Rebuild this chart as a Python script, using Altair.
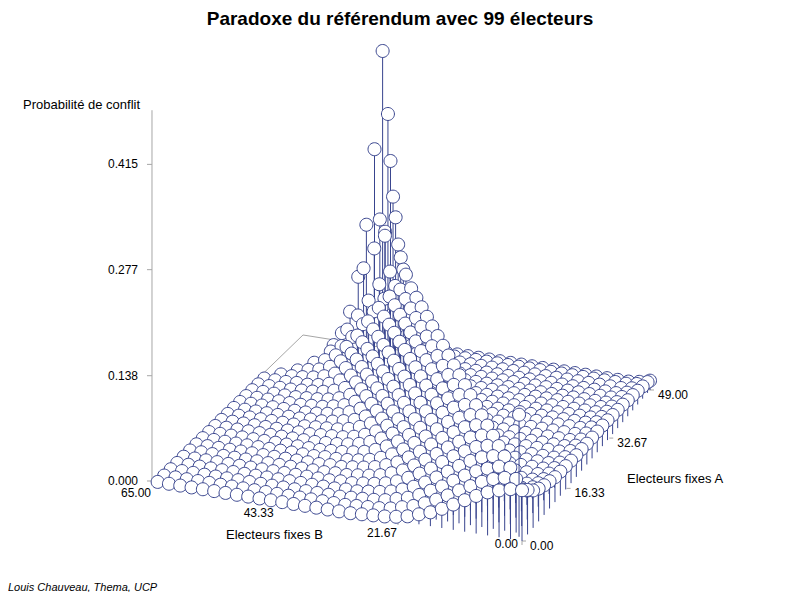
import altair as alt
import pandas as pd

# ---------------- data ----------------
# Electeurs fixes A (rows) and Electeurs fixes B (columns); domain A + B <= 99
A_ROWS = [0, 2, 4, 6, 8, 10, 12, 14, 16, 18, 20, 22, 24, 26, 28, 30, 32, 34, 36, 38, 40, 42, 44, 46, 48, 49]
B_COLS = [0, 2, 4, 6, 8, 10, 12, 14, 16, 18, 20, 22, 24, 26, 28, 30, 32,
          34, 36, 38, 40, 42, 44, 46, 48, 50, 52, 54, 56, 58, 60, 62, 64]

# Probabilite de conflit, one list per A row (values for B_COLS, None = outside domain)
Z_A00 = [0.066, 0.065, 0.061, 0.056, 0.049, 0.041, 0.033, 0.025, 0.018, 0.013,
         0.008, 0.005, 0.003, 0.002, 0.001, 0, 0, 0, 0, 0,
         0, 0, 0, 0, 0, 0, 0, 0, 0, 0, 0, 0, 0]
Z_A02 = [0.058, 0.070, 0.069, 0.065, 0.059, 0.051, 0.043, 0.034, 0.026, 0.019,
         0.013, 0.009, 0.005, 0.003, 0.002, 0.001, 0, 0, 0, 0,
         0, 0, 0, 0, 0, 0, 0, 0, 0, 0, 0, 0, 0]
Z_A04 = [0.049, 0.048, 0.074, 0.073, 0.068, 0.062, 0.054, 0.045, 0.035, 0.027,
         0.019, 0.013, 0.009, 0.005, 0.003, 0.002, 0.001, 0, 0, 0,
         0, 0, 0, 0, 0, 0, 0, 0, 0, 0, 0, 0, 0]
Z_A06 = [0.043, 0.038, 0.041, 0.078, 0.076, 0.072, 0.065, 0.056, 0.046, 0.036,
         0.027, 0.019, 0.013, 0.008, 0.005, 0.003, 0.001, 0.001, 0, 0,
         0, 0, 0, 0, 0, 0, 0, 0, 0, 0, 0, 0, 0]
Z_A08 = [0.039, 0.034, 0.031, 0.038, 0.081, 0.079, 0.075, 0.067, 0.058, 0.048,
         0.037, 0.028, 0.020, 0.013, 0.008, 0.005, 0.003, 0.001, 0.001, 0,
         0, 0, 0, 0, 0, 0, 0, 0, 0, 0, 0, 0, 0]
Z_A10 = [0.036, 0.031, 0.028, 0.028, 0.036, 0.084, 0.082, 0.077, 0.069, 0.059,
         0.048, 0.038, 0.028, 0.019, 0.013, 0.008, 0.005, 0.003, 0.001, 0.001,
         0, 0, 0, 0, 0, 0, 0, 0, 0, 0, 0, 0, 0]
Z_A12 = [0.033, 0.028, 0.025, 0.025, 0.025, 0.034, 0.087, 0.085, 0.080, 0.071,
         0.061, 0.050, 0.038, 0.028, 0.019, 0.013, 0.008, 0.005, 0.003, 0.001,
         0.001, 0, 0, 0, 0, 0, 0, 0, 0, 0, 0, 0, 0]
Z_A14 = [0.032, 0.027, 0.024, 0.024, 0.024, 0.024, 0.034, 0.090, 0.088, 0.082,
         0.074, 0.062, 0.050, 0.039, 0.028, 0.019, 0.012, 0.007, 0.004, 0.002,
         0.001, 0.001, 0, 0, 0, 0, 0, 0, 0, 0, 0, 0, 0]
Z_A16 = [0.031, 0.026, 0.023, 0.023, 0.023, 0.023, 0.023, 0.034, 0.093, 0.091,
         0.085, 0.076, 0.064, 0.051, 0.039, 0.028, 0.019, 0.012, 0.007, 0.004,
         0.002, 0.001, 0, 0, 0, 0, 0, 0, 0, 0, 0, 0, 0]
Z_A18 = [0.030, 0.025, 0.022, 0.022, 0.022, 0.022, 0.022, 0.022, 0.033, 0.096,
         0.094, 0.087, 0.078, 0.065, 0.052, 0.039, 0.028, 0.019, 0.012, 0.007,
         0.004, 0.002, 0.001, 0, 0, 0, 0, 0, 0, 0, 0, 0, 0]
Z_A20 = [0.029, 0.024, 0.021, 0.021, 0.021, 0.021, 0.021, 0.021, 0.021, 0.033,
         0.099, 0.097, 0.090, 0.079, 0.066, 0.052, 0.039, 0.028, 0.018, 0.011,
         0.006, 0.003, 0.002, 0.001, 0, 0, 0, 0, 0, 0, 0, 0, 0]
Z_A22 = [0.029, 0.024, 0.021, 0.021, 0.021, 0.021, 0.021, 0.021, 0.021, 0.021,
         0.033, 0.102, 0.100, 0.092, 0.081, 0.068, 0.053, 0.039, 0.027, 0.018,
         0.011, 0.006, 0.003, 0.002, 0.001, 0, 0, 0, 0, 0, 0, 0, 0]
Z_A24 = [0.028, 0.023, 0.020, 0.020, 0.020, 0.020, 0.020, 0.020, 0.020, 0.020,
         0.020, 0.033, 0.105, 0.102, 0.095, 0.083, 0.069, 0.053, 0.039, 0.027,
         0.017, 0.010, 0.006, 0.003, 0.001, 0.001, 0, 0, 0, 0, 0, 0, 0]
Z_A26 = [0.028, 0.023, 0.020, 0.020, 0.020, 0.020, 0.020, 0.020, 0.020, 0.020,
         0.020, 0.020, 0.033, 0.108, 0.105, 0.097, 0.085, 0.070, 0.054, 0.039,
         0.026, 0.017, 0.010, 0.005, 0.003, 0.001, 0, 0, 0, 0, 0, 0, 0]
Z_A28 = [0.028, 0.023, 0.020, 0.020, 0.020, 0.020, 0.020, 0.020, 0.020, 0.020,
         0.020, 0.020, 0.020, 0.034, 0.111, 0.108, 0.099, 0.086, 0.070, 0.054,
         0.039, 0.026, 0.016, 0.009, 0.005, 0.002, 0.001, 0, 0, 0, 0, 0, 0]
Z_A30 = [0.028, 0.023, 0.020, 0.020, 0.020, 0.020, 0.020, 0.020, 0.020, 0.020,
         0.020, 0.020, 0.020, 0.020, 0.034, 0.114, 0.111, 0.102, 0.088, 0.071,
         0.054, 0.038, 0.025, 0.015, 0.008, 0.004, 0.002, 0.001, 0, 0, 0, 0, 0]
Z_A32 = [0.027, 0.022, 0.019, 0.019, 0.019, 0.019, 0.019, 0.019, 0.019, 0.019,
         0.019, 0.019, 0.019, 0.019, 0.019, 0.034, 0.117, 0.114, 0.104, 0.089,
         0.072, 0.054, 0.037, 0.024, 0.014, 0.008, 0.004, 0.002, 0.001, 0, 0, 0, 0]
Z_A34 = [0.026, 0.021, 0.018, 0.018, 0.018, 0.018, 0.018, 0.018, 0.018, 0.018,
         0.018, 0.018, 0.018, 0.018, 0.018, 0.018, 0.033, 0.120, 0.116, 0.106,
         0.091, 0.072, 0.054, 0.037, 0.023, 0.014, 0.007, 0.003, 0.001, 0.001, 0, 0, 0]
Z_A36 = [0.025, 0.020, 0.017, 0.017, 0.017, 0.017, 0.017, 0.017, 0.017, 0.017,
         0.017, 0.017, 0.017, 0.017, 0.017, 0.017, 0.017, 0.033, 0.123, 0.119,
         0.108, 0.092, 0.073, 0.054, 0.037, 0.023, 0.013, 0.007, 0.003, 0.001, 0, 0, None]
Z_A38 = [0.024, 0.019, 0.016, 0.016, 0.016, 0.016, 0.016, 0.016, 0.016, 0.016,
         0.016, 0.016, 0.016, 0.016, 0.016, 0.016, 0.016, 0.016, 0.032, 0.126,
         0.122, 0.111, 0.093, 0.073, 0.053, 0.035, 0.022, 0.012, 0.006, 0.003, 0, None, None]
Z_A40 = [0.022, 0.017, 0.014, 0.014, 0.014, 0.014, 0.014, 0.014, 0.014, 0.014,
         0.014, 0.014, 0.014, 0.014, 0.014, 0.014, 0.014, 0.014, 0.014, 0.031,
         0.129, 0.125, 0.113, 0.095, 0.074, 0.052, 0.034, 0.020, 0.011, 0.005, None, None, None]
Z_A42 = [0.021, 0.016, 0.013, 0.013, 0.013, 0.013, 0.013, 0.013, 0.013, 0.013,
         0.013, 0.013, 0.013, 0.013, 0.013, 0.013, 0.013, 0.013, 0.013, 0.013,
         0.031, 0.138, 0.120, 0.100, 0.080, 0.060, 0.040, 0.025, 0.015, None, None, None, None]
Z_A44 = [0.019, 0.014, 0.011, 0.011, 0.011, 0.011, 0.011, 0.011, 0.011, 0.011,
         0.011, 0.011, 0.011, 0.011, 0.011, 0.011, 0.011, 0.011, 0.011, 0.011,
         0.011, 0.032, 0.152, 0.130, 0.110, 0.085, 0.062, 0.040, None, None, None, None, None]
Z_A46 = [0.017, 0.012, 0.010, 0.010, 0.010, 0.010, 0.010, 0.010, 0.010, 0.010,
         0.010, 0.010, 0.010, 0.010, 0.010, 0.010, 0.010, 0.010, 0.010, 0.010,
         0.010, 0.010, 0.035, 0.198, 0.170, 0.150, 0.120, None, None, None, None, None, None]
Z_A48 = [0.015, 0.010, 0.008, 0.008, 0.008, 0.008, 0.008, 0.008, 0.008, 0.008,
         0.008, 0.008, 0.008, 0.008, 0.008, 0.008, 0.008, 0.008, 0.008, 0.008,
         0.008, 0.008, 0.008, 0.040, 0.267, 0.183, None, None, None, None, None, None, None]
Z_A49 = [0.013, 0.009, 0.007, 0.007, 0.007, 0.007, 0.007, 0.007, 0.007, 0.007,
         0.007, 0.007, 0.007, 0.007, 0.007, 0.007, 0.007, 0.007, 0.007, 0.007,
         0.007, 0.007, 0.007, 0.007, 0.050, 0.415, None, None, None, None, None, None, None]

Z_ROWS = [Z_A00, Z_A02, Z_A04, Z_A06, Z_A08, Z_A10, Z_A12, Z_A14, Z_A16, Z_A18,
          Z_A20, Z_A22, Z_A24, Z_A26, Z_A28, Z_A30, Z_A32, Z_A34, Z_A36, Z_A38,
          Z_A40, Z_A42, Z_A44, Z_A46, Z_A48, Z_A49]

# isolated spikes (odd coordinates) visible near the peak and the front corner
SPIKE_B = [49, 51, 49, 52, 47, 53, 45, 54, 55, 43, 56, 1]
SPIKE_A = [49, 48, 48, 47, 47, 46, 45, 45, 44, 43, 43, 1]
SPIKE_Z = [0.328, 0.280, 0.167, 0.177, 0.222, 0.107, 0.165, 0.061, 0.034, 0.140, 0.020, 0.159]

# axis ticks
Z_TICKS = [0.000, 0.138, 0.277, 0.415]
B_TICKS = [0.0, 21.67, 43.33, 65.0]
A_TICKS = [0.0, 16.33, 32.67, 49.0]

# ---------------- build tables ----------------
for r in Z_ROWS:
    assert len(r) == len(B_COLS), len(r)

recs = []
for a, zr in zip(A_ROWS, Z_ROWS):
    for b, z in zip(B_COLS, zr):
        if z is not None:
            recs.append({"A": a, "B": b, "Z": z})
for b, a, z in zip(SPIKE_B, SPIKE_A, SPIKE_Z):
    recs.append({"A": a, "B": b, "Z": z})
surface = pd.DataFrame(recs)

# ---------------- perspective projection (floor quad + vertical) ----------------
def s_(f):
    return f"(datum.{f}/65)"

def t_(f):
    return f"(datum.{f}/49)"

def w_(bf, af):
    return f"(0.007971*{s_(bf)} + 0.06975*{t_(af)} + 1)"

def xe(bf, af):
    return f"(-368.79*{s_(bf)} + 173.34*{t_(af)} + 522)/{w_(bf, af)}"

def ye(bf, af, z):
    return f"((-56.17*{s_(bf)} - 123.80*{t_(af)} + 541) - ({z})*769)/{w_(bf, af)}"

BLUE = "#38448e"
GRAY = "#a6a6a6"
FONT = "Liberation Sans"
R_PX = 6.5
CIRCLE = ("M-1,0C-1,-0.552 -0.552,-1 0,-1C0.552,-1 1,-0.552 1,0"
          "C1,0.552 0.552,1 0,1C-0.552,1 -1,0.552 -1,0Z")

XS = alt.Scale(domain=[8, 792], nice=False, zero=False)
YS = alt.Scale(domain=[8, 592], nice=False, zero=False, reverse=True)

def X(f):
    return alt.X(f"{f}:Q", scale=XS, axis=None)

def Y(f):
    return alt.Y(f"{f}:Q", scale=YS, axis=None)

# surface : needles + balloons drawn back to front
surf = (
    alt.Chart(surface)
    .transform_calculate(xp=xe("B", "A"))
    .transform_calculate(yp=ye("B", "A", "datum.Z"))
    .transform_calculate(yf=ye("B", "A", "0"))
    .transform_calculate(nl=f"datum.yf - datum.yp")
    .transform_calculate(
        shape=f"'M0,1L0,' + format(max(1, datum.nl/{R_PX}), '.3f') + '{CIRCLE}'"
    )
    .mark_point(filled=True, fill="white", stroke=BLUE, strokeWidth=1,
                size=(2 * R_PX) ** 2, opacity=1)
    .encode(x=X("xp"), y=Y("yp"),
            shape=alt.Shape("shape:N", scale=None),
            order=alt.Order("yf:Q", sort="ascending"))
)

# box: vertical axis and the two back floor edges
edges = pd.DataFrame({"B1": [65, 65, 65], "A1": [0, 0, 49],
                      "B2": [65, 65, 0], "A2": [0, 49, 49],
                      "Z1": [0, 0, 0], "Z2": [0.486, 0, 0]})
box = (
    alt.Chart(edges)
    .transform_calculate(x1=xe("B1", "A1"), y1=ye("B1", "A1", "datum.Z1"),
                         x2=xe("B2", "A2"), y2=ye("B2", "A2", "datum.Z2"))
    .mark_rule(color=GRAY, strokeWidth=1)
    .encode(x=X("x1"), y=Y("y1"), x2="x2:Q", y2="y2:Q")
)

zt = pd.DataFrame({"Z": Z_TICKS, "B": 65, "A": 0})
zticks = (
    alt.Chart(zt)
    .transform_calculate(xp=xe("B", "A"), yp=ye("B", "A", "datum.Z"))
    .transform_calculate(x0="datum.xp - 5", lab="format(datum.Z, '.3f')", lx="datum.xp - 14")
)
zt_rule = zticks.mark_rule(color=GRAY).encode(x=X("x0"), y=Y("yp"), x2="xp:Q", y2="yp:Q")
zt_text = zticks.mark_text(align="right", baseline="middle", font=FONT, fontSize=12,
                           color="black").encode(x=X("lx"), y=Y("yp"), text="lab:N")

bt = pd.DataFrame({"B": B_TICKS, "A": 0})
bticks = (
    alt.Chart(bt)
    .transform_calculate(xp=xe("B", "A"), yp=ye("B", "A", "0"))
    .transform_calculate(y4="datum.yp + 4",
                         lab="format(datum.B, '.2f')",
                         lx="datum.xp - (datum.B == 0 ? 4 : 1)",
                         ly="datum.yp + (datum.B == 0 ? 3 : 12)")
)
bt_rule = bticks.mark_rule(color=GRAY).encode(x=X("xp"), y=Y("yp"), y2="y4:Q")
bt_text = bticks.mark_text(align="right", baseline="middle", font=FONT, fontSize=12,
                           color="black").encode(x=X("lx"), y=Y("ly"), text="lab:N")

at = pd.DataFrame({"A": A_TICKS, "B": 0})
aticks = (
    alt.Chart(at)
    .transform_calculate(xp=xe("B", "A"), yp=ye("B", "A", "0"))
    .transform_calculate(x4="datum.xp + 4",
                         lab="format(datum.A, '.2f')",
                         lx="datum.xp + 8",
                         ly="datum.yp + 5")
)
at_rule = aticks.mark_rule(color=GRAY).encode(x=X("xp"), y=Y("yp"), x2="x4:Q")
at_text = aticks.mark_text(align="left", baseline="middle", font=FONT, fontSize=12,
                           color="black").encode(x=X("lx"), y=Y("ly"), text="lab:N")

one = pd.DataFrame({"k": [0]})

def label(txt, x, y, align="left", size=13, weight="normal", style="normal"):
    return (alt.Chart(one)
            .mark_text(text=txt, align=align, baseline="alphabetic", font=FONT,
                       fontSize=size, fontWeight=weight, fontStyle=style, color="black")
            .encode(x=alt.value(x), y=alt.value(y)))

title = label("Paradoxe du référendum avec 99 électeurs", 392, 17, align="center",
              size=19, weight="bold")
zlab = label("Probabilité de conflit", 15, 101)
blab = label("Electeurs fixes B", 218, 531)
alab = label("Electeurs fixes A", 619, 475)
foot = label("Louis Chauveau, Thema, UCP", 0, 583, size=11, style="italic")

chart = (
    alt.layer(box, zt_rule, bt_rule, at_rule, surf, zt_text, bt_text, at_text,
              title, zlab, blab, alab, foot)
    .properties(width=784, height=584, padding=0, autosize="none",
                background="white")
    .configure_view(stroke=None)
)

chart.save("out.html", embed_options={"renderer": "svg", "actions": False})
